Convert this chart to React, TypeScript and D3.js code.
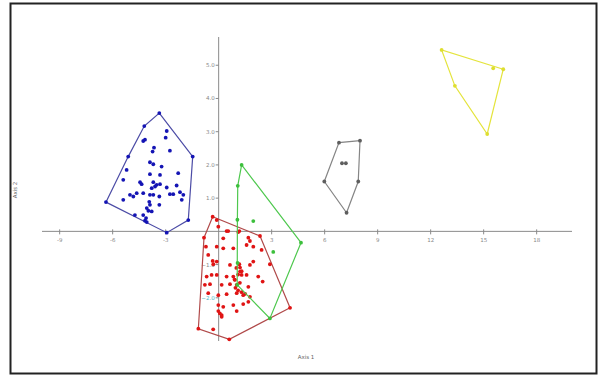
import React from 'react';
import * as d3 from 'd3';

// cluster scores on the first two axes
const bluePoints: [number, number][] = [
  [-3.36, 3.56], [-4.21, 3.17], [-5.12, 2.25], [-6.38, 0.88], [-4.74, 0.49], [-2.94, -0.04], [-1.72, 0.34], [-1.47, 2.25],
  [-2.94, 3.02], [-3.0, 2.82], [-4.27, 2.72], [-4.17, 2.76], [-3.66, 2.52], [-3.74, 2.4], [-2.76, 2.43], [-3.89, 2.08],
  [-3.7, 2.02], [-3.23, 1.95], [-5.21, 1.85], [-5.4, 1.55], [-3.89, 1.72], [-3.32, 1.7], [-2.29, 1.75], [-4.45, 1.48],
  [-4.36, 1.42], [-3.7, 1.48], [-3.51, 1.4], [-3.32, 1.42], [-3.6, 1.35], [-3.79, 1.3], [-2.38, 1.38], [-2.19, 1.18],
  [-2.57, 1.12], [-2.76, 1.12], [-4.64, 1.15], [-4.27, 1.15], [-3.89, 1.1], [-3.7, 1.1], [-5.02, 1.1], [-5.4, 0.95],
  [-4.83, 1.05], [-3.36, 1.05], [-3.93, 0.89], [-3.89, 0.8], [-3.36, 0.8], [-4.07, 0.7], [-3.98, 0.62], [-3.79, 0.6],
  [-4.27, 0.49], [-4.11, 0.4], [-4.17, 0.32], [-4.07, 0.28], [-2.09, 0.95], [-2.0, 1.1], [-2.94, 1.32],
];

const redPoints: [number, number][] = [
  [-0.34, 0.44], [2.34, -0.14], [4.04, -2.3], [0.6, -3.25], [-0.31, -2.95], [-1.15, -2.93], [-0.83, -0.19], [-0.11, 0.34],
  [-0.02, 0.14], [0.45, 0.01], [1.17, 0.01], [0.54, 0.01], [1.11, -0.02], [0.26, -0.21], [1.68, -0.19], [1.77, -0.29],
  [-0.72, -0.46], [-0.11, -0.46], [0.26, -0.51], [0.83, -0.51], [1.58, -0.41], [1.96, -0.46], [2.43, -0.56],
  [-0.59, -0.71], [-0.34, -0.89], [-0.3, -0.99], [-0.11, -0.91], [0.64, -1.01], [1.17, -0.99], [1.21, -1.09],
  [1.77, -1.01], [1.96, -0.91], [2.9, -0.99], [-0.68, -1.36], [-0.4, -1.31], [-0.11, -1.31], [0.45, -1.36],
  [0.83, -1.36], [1.21, -1.21], [1.3, -1.31], [1.58, -1.31], [2.24, -1.36], [2.49, -1.51], [-0.78, -1.61],
  [-0.49, -1.59], [0.17, -1.61], [0.64, -1.59], [1.02, -1.61], [1.68, -1.67], [0.92, -1.46], [-0.59, -1.86],
  [-0.02, -1.92], [0.45, -1.89], [1.02, -1.86], [1.39, -1.92], [1.77, -1.97], [1.68, -2.12], [-0.02, -2.22],
  [0.26, -2.27], [0.83, -2.22], [1.39, -2.19], [-0.02, -2.4], [0.07, -2.47], [0.17, -2.52], [1.02, -2.4],
  [0.17, -2.57], [1.0, -1.1], [1.1, -1.3], [0.9, -1.45], [1.2, -1.55], [0.95, -1.7], [1.3, -1.2],
  [1.1, -1.78], [1.3, -1.83], [1.5, -1.88],
];

const greenPoints: [number, number][] = [
  [1.3, 2.0], [1.08, 1.37], [1.06, 0.35], [1.96, 0.31], [3.09, -0.62], [4.66, -0.34], [2.9, -2.62], [1.05, -1.61],
  [1.07, -0.95],
];

const grayPoints: [number, number][] = [
  [6.81, 2.67], [8.0, 2.73], [5.98, 1.5], [7.9, 1.5], [7.24, 0.56], [6.98, 2.05], [7.2, 2.05],
];

const yellowPoints: [number, number][] = [
  [12.62, 5.46], [16.11, 4.88], [15.54, 4.91], [13.37, 4.38], [15.2, 2.93],
];

const xTicks = [-9, -6, -3, 3, 6, 9, 12, 15, 18];
const yTicks = [-2, -1, 1, 2, 3, 4, 5];

const clusters = [
  { name: 'blue', points: bluePoints, hull: '#4c4ca6', dot: '#1414b4' },
  { name: 'red', points: redPoints, hull: '#b04a4a', dot: '#e01414' },
  { name: 'green', points: greenPoints, hull: '#4ec84e', dot: '#3cbf3c' },
  { name: 'gray', points: grayPoints, hull: '#858585', dot: '#5e5e5e' },
  { name: 'yellow', points: yellowPoints, hull: '#e4e43c', dot: '#dede30' },
];

const W = 602;
const H = 376;

export default function App() {
  const x = d3.scaleLinear().domain([-10, 20]).range([42, 572]);
  const y = d3.scaleLinear().domain([-3.3, 5.85]).range([341, 37]);
  const x0 = x(0);
  const y0 = y(0);
  const line = d3.line<[number, number]>().x(d => x(d[0])).y(d => y(d[1]));
  const fmt = d3.format('.1f');

  return (
    <div style={{ position: 'fixed', left: 0, top: 0 }}>
      <svg width={W} height={H} style={{ display: 'block', fontFamily: 'DejaVu Sans, sans-serif' }}>
        <rect x={0} y={0} width={W} height={H} fill="#fff" />
        <rect x={10.5} y={3.5} width={586} height={370} fill="none" stroke="#222" strokeWidth={2} />

        {/* axes */}
        <line x1={x.range()[0]} x2={x.range()[1]} y1={y0} y2={y0} stroke="#8a8a8a" strokeWidth={1} />
        <line x1={x0} x2={x0} y1={y.range()[1]} y2={y.range()[0]} stroke="#8a8a8a" strokeWidth={1} />
        {xTicks.map(t => (
          <g key={`x${t}`}>
            <line x1={x(t)} x2={x(t)} y1={y0 - 2} y2={y0 + 3} stroke="#8a8a8a" />
            <text x={x(t)} y={y0 + 11} fontSize={5.5} fill="#888" textAnchor="middle">{t}</text>
          </g>
        ))}
        {yTicks.map(t => (
          <g key={`y${t}`}>
            <line x1={x0 - 3} x2={x0} y1={y(t)} y2={y(t)} stroke="#8a8a8a" />
            <text x={x0 - 4} y={y(t) + 2} fontSize={5.5} fill={t === -2 ? '#49b6c2' : '#888'} textAnchor="end">{fmt(t)}</text>
          </g>
        ))}
        <text x={306} y={359} fontSize={5.5} fill="#666" textAnchor="middle">Axis 1</text>
        <text transform="translate(17,190) rotate(-90)" fontSize={5.5} fill="#666" textAnchor="middle">Axis 2</text>

        {/* clusters: convex hull + points */}
        {clusters.map(c => {
          const hull = d3.polygonHull(c.points) as [number, number][];
          return (
            <g key={c.name}>
              <path d={line([...hull, hull[0]]) ?? ''} fill="none" stroke={c.hull} strokeWidth={1.2} />
              {c.points.map((p, i) => (
                <circle key={i} cx={x(p[0])} cy={y(p[1])} r={1.9} fill={c.dot} />
              ))}
            </g>
          );
        })}
      </svg>
    </div>
  );
}
